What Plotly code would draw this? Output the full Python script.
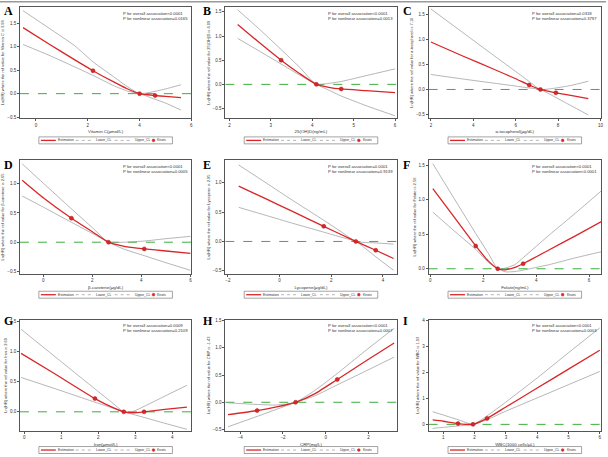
import plotly.graph_objects as go

W, H = 608, 457

# --- A: Vitamin C
a_x = [-0.5, 0.5, 1.5, 2.2, 3.0, 3.5, 4.0, 4.6, 5.0, 5.6]
a_est = [1.41, 1.06, 0.72, 0.49, 0.25, 0.11, 0.0, -0.04, -0.06, -0.085]
a_low = [1.05, 0.82, 0.57, 0.39, 0.17, 0.06, 0.0, -0.12, -0.20, -0.35]
a_up = [1.77, 1.40, 1.02, 0.68, 0.36, 0.16, 0.0, 0.05, 0.10, 0.19]
a_knot_x = [2.2, 4.0, 4.6]
a_knot_y = [0.49, 0.0, -0.04]

# --- B: 25(OH)D
b_x = [2.2, 2.7, 3.25, 3.7, 4.1, 4.4, 4.7, 5.3, 6.0]
b_est = [1.24, 0.88, 0.50, 0.22, 0.0, -0.06, -0.095, -0.13, -0.17]
b_low = [0.95, 0.70, 0.42, 0.19, 0.0, -0.12, -0.24, -0.44, -0.65]
b_up = [1.54, 1.16, 0.72, 0.35, 0.0, 0.02, 0.06, 0.18, 0.32]
b_knot_x = [3.25, 4.1, 4.7]
b_knot_y = [0.50, 0.0, -0.095]

# --- C: alpha-tocopherol
c_x = [2.0, 3.5, 5.0, 6.0, 6.64, 7.17, 7.9, 8.6, 9.43]
c_est = [0.95, 0.67, 0.40, 0.215, 0.09, 0.0, -0.066, -0.12, -0.185]
c_low = [0.30, 0.21, 0.125, 0.068, 0.03, 0.0, -0.16, -0.32, -0.51]
c_up = [1.61, 1.14, 0.67, 0.36, 0.16, 0.0, 0.03, 0.08, 0.165]
c_knot_x = [6.64, 7.17, 7.9]
c_knot_y = [0.09, 0.0, -0.066]

# --- D: beta-carotene
d_x = [-0.86, 0.0, 1.15, 2.0, 2.66, 3.3, 4.12, 5.0, 6.0]
d_est = [1.06, 0.76, 0.41, 0.18, 0.0, -0.07, -0.114, -0.15, -0.19]
d_low = [0.79, 0.60, 0.34, 0.15, 0.0, -0.12, -0.23, -0.35, -0.48]
d_up = [1.34, 1.01, 0.57, 0.25, 0.0, 0.0, 0.02, 0.06, 0.10]
d_knot_x = [1.15, 2.66, 4.12]
d_knot_y = [0.41, 0.0, -0.114]

# --- E: Lycopene
e_x = [-1.58, -0.5, 0.5, 1.71, 2.4, 2.95, 3.72, 4.41]
e_est = [0.94, 0.72, 0.51, 0.257, 0.114, 0.0, -0.15, -0.29]
e_low = [0.58, 0.44, 0.31, 0.158, 0.07, 0.0, -0.26, -0.49]
e_up = [1.30, 0.99, 0.70, 0.36, 0.16, 0.0, -0.025, -0.045]
e_knot_x = [1.71, 2.95, 3.72]
e_knot_y = [0.257, 0.0, -0.15]

# --- F: Folate
f_x = [0.1, 0.9, 1.72, 2.2, 2.55, 2.85, 3.2, 3.51, 4.5, 5.5, 6.5]
f_est = [1.16, 0.75, 0.33, 0.11, 0.0, -0.015, 0.02, 0.073, 0.275, 0.48, 0.69]
f_low = [0.82, 0.55, 0.28, 0.09, 0.0, -0.045, -0.04, -0.02, 0.06, 0.16, 0.25]
f_up = [1.52, 1.02, 0.51, 0.22, 0.0, 0.01, 0.06, 0.16, 0.49, 0.81, 1.14]
f_knot_x = [1.72, 2.55, 3.51]
f_knot_y = [0.33, 0.0, 0.073]

# --- G: Iron
g_x = [-0.09, 0.8, 1.91, 2.4, 2.69, 2.95, 3.24, 3.8, 4.40]
g_est = [0.97, 0.64, 0.22, 0.07, 0.0, -0.015, 0.0, 0.04, 0.077]
g_low = [0.57, 0.39, 0.16, 0.06, 0.0, -0.044, -0.093, -0.19, -0.29]
g_up = [1.37, 0.93, 0.38, 0.14, 0.0, 0.01, 0.09, 0.26, 0.44]
g_knot_x = [1.91, 2.69, 3.24]
g_knot_y = [0.22, 0.0, 0.0]

# --- H: CRP
h_x = [-4.57, -3.21, -2.3, -1.41, -0.5, 0.54, 1.8, 3.2]
h_est = [-0.227, -0.153, -0.085, 0.0, 0.16, 0.42, 0.74, 1.09]
h_low = [-0.45, -0.26, -0.13, 0.0, 0.12, 0.32, 0.56, 0.83]
h_up = [-0.01, -0.04, -0.05, 0.0, 0.22, 0.53, 0.93, 1.36]
h_knot_x = [-3.21, -1.41, 0.54]
h_knot_y = [-0.153, 0.0, 0.42]

# --- I: WBC
i_x = [0.66, 1.0, 1.47, 1.95, 2.4, 3.0, 4.0, 5.0, 6.0]
i_est = [0.17, 0.12, 0.03, 0.0, 0.23, 0.67, 1.40, 2.13, 2.86]
i_low = [-0.155, -0.115, -0.06, 0.0, 0.18, 0.51, 1.02, 1.53, 2.04]
i_up = [0.49, 0.36, 0.18, 0.0, 0.33, 0.86, 1.79, 2.76, 3.72]
i_knot_x = [1.47, 1.95, 2.4]
i_knot_y = [0.03, 0.0, 0.23]

letters = ["A", "B", "C", "D", "E", "F", "G", "H", "I"]
x_titles = ["Vitamin C(μmol/L)", "25(OH)D(ng/mL)", "α-tocopherol(μg/dL)",
            "β-carotene(μg/dL)", "Lycopene(μg/dL)", "Folate(ng/mL)",
            "Iron(μmol/L)", "CRP(mg/L)", "WBC(1000 cells/μL)"]
y_titles = ["Ln(HR) where the ref value for Vitamin C is 3.99",
            "Ln(HR) where the ref value for 25(OH)D is 4.09",
            "Ln(HR) where the ref value for α-tocopherol is 7.16",
            "Ln(HR) where the ref value for β-carotene is 2.65",
            "Ln(HR) where the ref value for Lycopene is 2.95",
            "Ln(HR) where the ref value for Folate is 2.56",
            "Ln(HR) where the ref value for Iron is 2.69",
            "Ln(HR) where the ref value for CRP is -1.43",
            "Ln(HR) where the ref value for WBC is 1.93"]
p_overall = ["<0.0001", "<0.0001", "=0.0318", "<0.0001", "=0.0001",
             "<0.0001", "=0.0009", "<0.0001", "<0.0001"]
p_nonlinear = ["=0.0165", "=0.0013", "=0.3797", "=0.0005", "=0.9139",
               "<0.0001", "=0.2109", "=0.0007", "=0.0003"]
x_ranges = [[-0.62, 6.0], [1.9, 6.04], [1.89, 10.03], [-0.95, 6.04], [-2.1, 4.53],
            [-0.06, 6.45], [-0.12, 4.52], [-4.7, 3.32], [0.53, 6.04]]
y_ranges = [[-0.53, 1.85], [-0.705, 1.60], [-0.58, 1.65], [-0.54, 1.40], [-0.55, 1.38],
            [-0.073, 1.57], [-0.32, 1.53], [-0.53, 1.52], [-0.26, 4.04]]
x_ticks = [[0, 2, 4, 6], [2, 3, 4, 5, 6], [2, 4, 6, 8, 10], [0, 2, 4, 6], [-2, 0, 2, 4],
           [0, 2, 4, 6], [0, 1, 2, 3, 4], [-4, -2, 0, 2], [1, 2, 3, 4, 5, 6]]
y_ticks = [[-0.5, 0.0, 0.5, 1.0, 1.5], [-0.5, 0.0, 0.5, 1.0, 1.5], [-0.5, 0.0, 0.5, 1.0, 1.5],
           [-0.5, 0.0, 0.5, 1.0], [-0.5, 0.0, 0.5, 1.0], [0.0, 0.5, 1.0, 1.5],
           [0.0, 0.5, 1.0, 1.5], [-0.5, 0.0, 0.5, 1.0, 1.5], [0, 1, 2, 3, 4]]

series = [
    (a_x, a_est, a_low, a_up, a_knot_x, a_knot_y),
    (b_x, b_est, b_low, b_up, b_knot_x, b_knot_y),
    (c_x, c_est, c_low, c_up, c_knot_x, c_knot_y),
    (d_x, d_est, d_low, d_up, d_knot_x, d_knot_y),
    (e_x, e_est, e_low, e_up, e_knot_x, e_knot_y),
    (f_x, f_est, f_low, f_up, f_knot_x, f_knot_y),
    (g_x, g_est, g_low, g_up, g_knot_x, g_knot_y),
    (h_x, h_est, h_low, h_up, h_knot_x, h_knot_y),
    (i_x, i_est, i_low, i_up, i_knot_x, i_knot_y),
]

# pixel layout of the grid
COLS = [(20, 192), (226, 398), (430, 603)]
ROWS = [(6, 118), (160, 274), (320, 432)]
LEGEND_Y = [140, 295, 451]
LETTER_Y = [1, 156, 312]
LETTER_X = [2, 202, 402]

RED = "rgb(218,38,40)"
GRAY = "rgb(150,150,150)"
GREEN = "rgb(40,165,40)"
AXIS = "#555"
FONT = "Liberation Sans, Arial, sans-serif"

fig = go.Figure()
shapes = []
annotations = []
layout_axes = {}


def px_x(v):
    return v / W


def px_y(v):
    return 1 - v / H


def add_legend(cx, cy):
    w, h = 134, 7
    left = cx - w / 2
    shapes.append(dict(type="rect", xref="paper", yref="paper",
                       x0=px_x(left), x1=px_x(left + w), y0=px_y(cy + h / 2), y1=px_y(cy - h / 2),
                       line=dict(color="#666", width=0.6), fillcolor="white"))
    keys = [("Estimation", 2, 17, "solid", RED, 1.3),
            ("Lower_CL", 37, 55, "dot", GRAY, 0.7),
            ("Upper_CL", 76, 94, "dot", GRAY, 0.7)]
    for label, a, b, dash, col, lw in keys:
        shapes.append(dict(type="line", xref="paper", yref="paper",
                           x0=px_x(left + a), x1=px_x(left + b), y0=px_y(cy), y1=px_y(cy),
                           line=dict(color=col, width=lw, dash=dash)))
        annotations.append(dict(xref="paper", yref="paper", x=px_x(left + b + 1), y=px_y(cy),
                                xanchor="left", yanchor="middle", showarrow=False, text=label,
                                font=dict(size=3.4, color="#333", family=FONT), borderpad=0))
    r = 1.4
    shapes.append(dict(type="circle", xref="paper", yref="paper",
                       x0=px_x(left + 115 - r), x1=px_x(left + 115 + r),
                       y0=px_y(cy + r), y1=px_y(cy - r),
                       fillcolor=RED, line=dict(color=RED, width=0.5)))
    annotations.append(dict(xref="paper", yref="paper", x=px_x(left + 118), y=px_y(cy),
                            xanchor="left", yanchor="middle", showarrow=False, text="Knots",
                            font=dict(size=3.4, color="#333", family=FONT), borderpad=0))


for k, (xs, est, low, up, kx, ky) in enumerate(series):
    n = k + 1
    row, col = divmod(k, 3)
    xa = "x" if n == 1 else f"x{n}"
    ya = "y" if n == 1 else f"y{n}"
    l, r = COLS[col]
    t, b = ROWS[row]

    # green dashed reference line at 0 (drawn first so the curves sit on top)
    fig.add_trace(go.Scatter(x=x_ranges[k], y=[0, 0], mode="lines", xaxis=xa, yaxis=ya,
                             line=dict(color=GREEN, width=0.9, dash="dash"),
                             showlegend=False, hoverinfo="skip"))

    for vals, color, width in [(up, GRAY, 0.7), (low, GRAY, 0.7), (est, RED, 1.3)]:
        fig.add_trace(go.Scatter(x=xs, y=vals, mode="lines", xaxis=xa, yaxis=ya,
                                 line=dict(color=color, width=width, shape="spline", smoothing=0.5),
                                 showlegend=False, hoverinfo="skip"))
    fig.add_trace(go.Scatter(x=kx, y=ky, mode="markers", xaxis=xa, yaxis=ya,
                             marker=dict(color=RED, size=4, line=dict(color="rgb(170,20,20)", width=0.5)),
                             showlegend=False))

    axis_common = dict(showline=True, mirror=True, linecolor=AXIS, linewidth=0.7,
                       ticks="outside", ticklen=2, tickwidth=0.6, tickcolor=AXIS,
                       tickfont=dict(size=4.5, color="#333", family=FONT),
                       showgrid=False, zeroline=False)
    layout_axes["xaxis" if n == 1 else f"xaxis{n}"] = dict(
        axis_common, domain=[px_x(l), px_x(r)], anchor=ya, range=x_ranges[k],
        tickvals=x_ticks[k],
        title=dict(text=x_titles[k], font=dict(size=4.4, color="#333", family=FONT), standoff=3))
    layout_axes["yaxis" if n == 1 else f"yaxis{n}"] = dict(
        axis_common, domain=[px_y(b), px_y(t)], anchor=xa, range=y_ranges[k],
        tickvals=y_ticks[k], tickformat="d" if k == 8 else ".1f",
        title=dict(text=y_titles[k], font=dict(size=4.0, color="#333", family=FONT), standoff=2))

    annotations.append(dict(xref=f"{xa} domain", yref=f"{ya} domain", x=0.99, y=0.985,
                            xanchor="right", yanchor="top", align="left", showarrow=False,
                            text=f"P for overall association{p_overall[k]}<br>"
                                 f"P for nonlinear association{p_nonlinear[k]}",
                            font=dict(size=4.2, color="#333", family=FONT)))
    annotations.append(dict(xref="paper", yref="paper", x=px_x(LETTER_X[col]), y=px_y(LETTER_Y[row]),
                            xanchor="left", yanchor="top", showarrow=False, text=f"<b>{letters[k]}</b>",
                            font=dict(size=12, color="black", family="Liberation Serif, serif")))
    add_legend((l + r) / 2, LEGEND_Y[row])

# thin grey strip along the top edge
shapes.append(dict(type="rect", xref="paper", yref="paper", x0=0, x1=1, y0=px_y(1.5), y1=1,
                   fillcolor="#999", line=dict(width=0)))

fig.update_layout(
    width=W, height=H,
    margin=dict(l=0, r=0, t=0, b=0),
    paper_bgcolor="white", plot_bgcolor="white",
    font=dict(family=FONT, color="#333"),
    shapes=shapes, annotations=annotations,
    showlegend=False,
    **layout_axes,
)

# the page body has a default margin that would push the figure off the window
fig.write_html("out.html", config={"displayModeBar": False},
               post_script="document.body.style.margin='0';")
